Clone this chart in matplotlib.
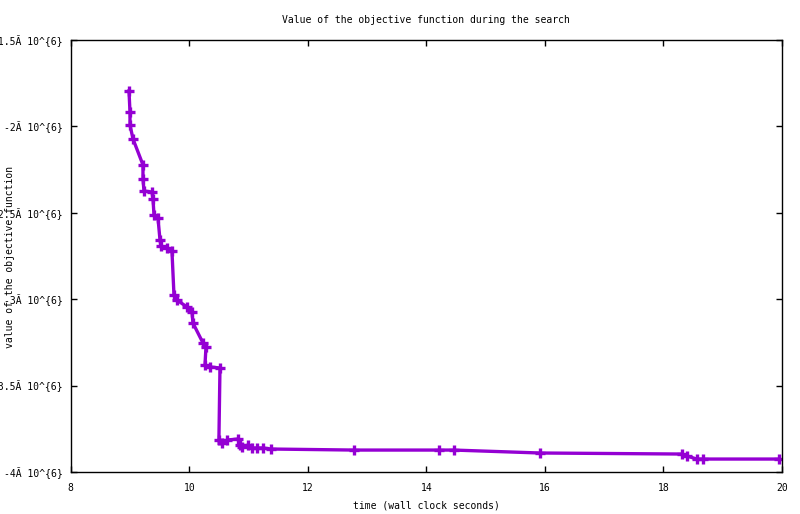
import matplotlib
matplotlib.use("Agg")
import matplotlib.pyplot as plt

# data (time in seconds, objective value)
times = [8.983, 9.000, 9.000, 9.051, 9.219, 9.219, 9.236,
         9.371, 9.388, 9.405, 9.472, 9.506, 9.523, 9.624, 9.708, 9.742, 9.793,
         9.961, 10.046, 10.062, 10.231, 10.282, 10.265, 10.349, 10.518, 10.500,
         10.551, 10.636, 10.821, 10.855, 10.889, 10.990, 11.057, 11.142, 11.243,
         11.378, 12.778, 14.211, 14.464, 15.915, 18.310, 18.394, 18.563, 18.664,
         19.946]
values = [-1.795e6, -1.917e6, -1.992e6, -2.073e6,
          -2.223e6, -2.304e6, -2.374e6, -2.380e6, -2.420e6, -2.513e6, -2.530e6,
          -2.657e6, -2.692e6, -2.704e6, -2.721e6, -2.976e6, -3.005e6, -3.045e6,
          -3.074e6, -3.138e6, -3.253e6, -3.277e6, -3.381e6, -3.392e6, -3.398e6,
          -3.815e6, -3.832e6, -3.815e6, -3.809e6, -3.844e6, -3.855e6, -3.844e6,
          -3.861e6, -3.861e6, -3.861e6, -3.867e6, -3.873e6, -3.873e6, -3.873e6,
          -3.890e6, -3.896e6, -3.907e6, -3.925e6, -3.925e6, -3.925e6]

xticks = [8, 10, 12, 14, 16, 18, 20]
xtick_labels = ["8", "10", "12", "14", "16", "18", "20"]
yticks = [-1.5e6, -2.0e6, -2.5e6, -3.0e6, -3.5e6, -4.0e6]
ytick_labels = ["-1.5\u00c3 10^{6}", "-2\u00c3 10^{6}", "-2.5\u00c3 10^{6}",
                "-3\u00c3 10^{6}", "-3.5\u00c3 10^{6}", "-4\u00c3 10^{6}"]

title = "Value of the objective function during the search"
xlabel = "time (wall clock seconds)"
ylabel = "value of the objective function"

plt.rcParams['font.family'] = ['DejaVu Sans Mono']
fs = 7

fig = plt.figure(figsize=(8.0, 5.14), dpi=100)
ax = fig.add_axes([0.0884, 0.0817, 0.8891, 0.8405])

ax.plot(times, values, color="#9400D3", linewidth=2.4, marker="+",
        markersize=7.5, markeredgewidth=2.4, solid_joinstyle="miter")

ax.set_xlim(8, 20)
ax.set_ylim(-4.0e6, -1.5e6)
ax.set_xticks(xticks)
ax.set_xticklabels(xtick_labels, fontsize=fs)
ax.set_yticks(yticks)
ax.set_yticklabels(ytick_labels, fontsize=fs)
ax.tick_params(axis="both", direction="in", length=4, width=1, top=True,
               right=True)
ax.tick_params(axis="x", pad=8)
ax.tick_params(axis="y", pad=6)
for s in ax.spines.values():
    s.set_linewidth(1)

fig.text(0.5 * (0.0884 + 0.9775), 1 - 20 / 514, title, fontsize=fs,
         ha="center", va="center")
fig.text(0.5 * (0.0884 + 0.9775), 1 - 505 / 514, xlabel, fontsize=fs,
         ha="center", va="center")
fig.text(10 / 800, 1 - 257 / 514, ylabel, fontsize=fs, rotation=90,
         ha="center", va="center")

fig.savefig("out.png", dpi=100)
